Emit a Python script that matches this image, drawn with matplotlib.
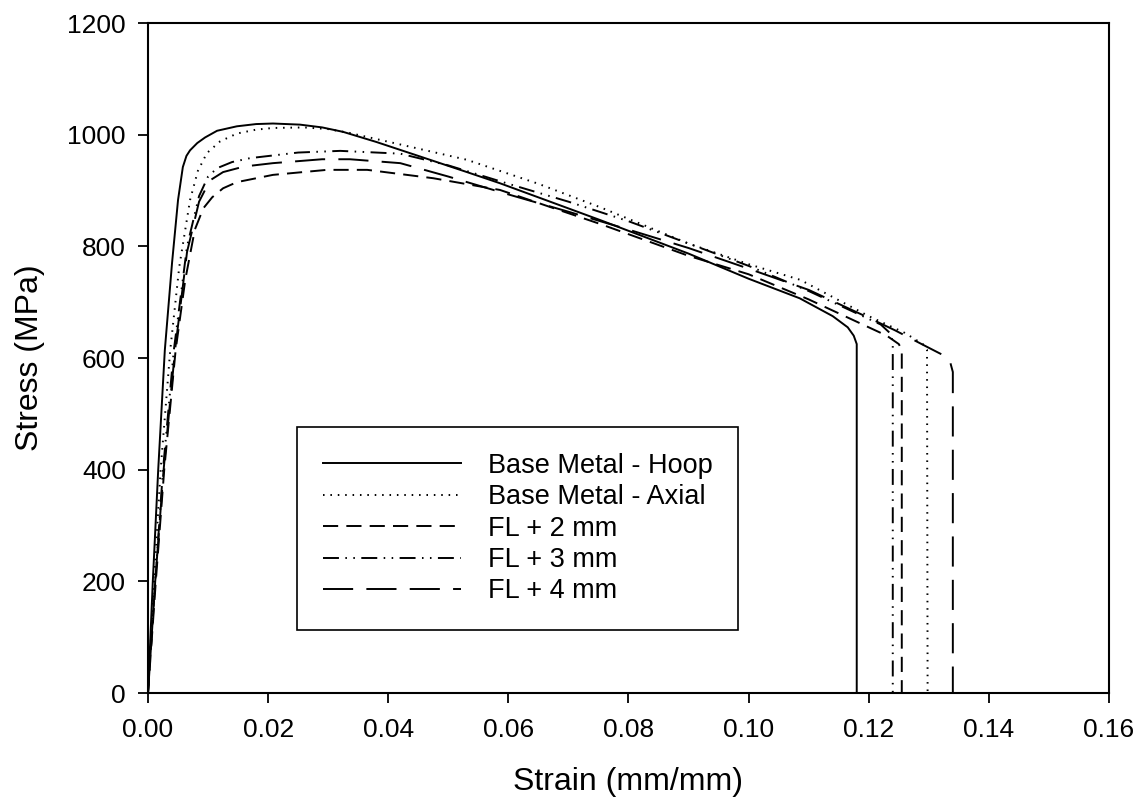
import numpy as np
import matplotlib
matplotlib.use('Agg')
import matplotlib.pyplot as plt

plt.rcParams['font.family'] = ['Liberation Sans', 'DejaVu Sans']

# Base Metal - Hoop
hoop_strain = [0, 0.0008, 0.0017, 0.0028, 0.0040, 0.0050, 0.0058, 0.0064, 0.0070, 0.0082, 0.0095, 0.0115,
               0.0148, 0.0180, 0.0208, 0.0253, 0.0290, 0.0325, 0.0380, 0.0436, 0.0531, 0.0586, 0.0753,
               0.0900, 0.1000, 0.1085, 0.1140, 0.1165, 0.1175, 0.1180, 0.1180]
hoop_stress = [0, 200, 400, 614, 770, 883, 942, 962, 972, 985, 995, 1007,
               1015, 1019, 1020, 1018, 1013, 1005, 987, 967, 933, 913, 847,
               787, 742, 707, 675, 655, 640, 625, 0]

# Base Metal - Axial
axial_strain = [0, 0.0010, 0.0021, 0.0037, 0.0052, 0.0070, 0.0083, 0.0098, 0.0120, 0.0148, 0.0180, 0.0208,
                0.0260, 0.0300, 0.0336, 0.0430, 0.0531, 0.0650, 0.0753, 0.0900, 0.1000, 0.1086, 0.1200,
                0.1260, 0.1290, 0.1297, 0.1298]
axial_stress = [0, 200, 400, 614, 763, 883, 935, 967, 988, 1002, 1009, 1012,
                1013, 1010, 1003, 980, 955, 912, 870, 805, 768, 740, 675,
                645, 625, 615, 0]

# FL + 2 mm
fl2_strain = [0, 0.0013, 0.0027, 0.0046, 0.0062, 0.0078, 0.0092, 0.0107, 0.0125, 0.0148, 0.0208, 0.0298,
              0.0365, 0.0475, 0.0586, 0.0753, 0.0900, 0.1000, 0.1100, 0.1180, 0.1230, 0.1250, 0.1255,
              0.1255]
fl2_stress = [0, 200, 400, 614, 740, 830, 868, 888, 904, 915, 928, 937,
              937, 922, 901, 840, 783, 750, 705, 665, 640, 625, 615,
              0]

# FL + 3 mm
fl3_strain = [0, 0.0012, 0.0025, 0.0043, 0.0065, 0.0085, 0.0100, 0.0115, 0.0140, 0.0170, 0.0250, 0.0320,
              0.0420, 0.0500, 0.0600, 0.0700, 0.0800, 0.0900, 0.1000, 0.1100, 0.1180, 0.1220, 0.1235,
              0.1240, 0.1240]
fl3_stress = [0, 200, 400, 614, 800, 890, 925, 940, 951, 958, 968, 971,
              966, 945, 912, 880, 845, 805, 765, 720, 680, 660, 645,
              630, 0]

# FL + 4 mm
fl4_strain = [0, 0.0012, 0.0026, 0.0045, 0.0065, 0.0085, 0.0103, 0.0125, 0.0160, 0.0208, 0.0290, 0.0336,
              0.0420, 0.0500, 0.0600, 0.0700, 0.0800, 0.0900, 0.1000, 0.1100, 0.1200, 0.1243, 0.1297,
              0.1326, 0.1336, 0.1340, 0.1340]
fl4_stress = [0, 200, 400, 614, 790, 880, 918, 933, 943, 949, 956, 956,
              949, 925, 893, 862, 830, 797, 760, 722, 672, 650, 620,
              604, 591, 575, 0]

labels = ['Base Metal - Hoop', 'Base Metal - Axial', 'FL + 2 mm', 'FL + 3 mm', 'FL + 4 mm']

fig = plt.figure(figsize=(11.42, 8.10), dpi=100)
ax = fig.add_axes([0.1296, 0.1444, 0.8415, 0.8272])

lw = 1.4
ax.plot(hoop_strain, hoop_stress, color='k', lw=lw, ls='-', label=labels[0])
ax.plot(axial_strain, axial_stress, color='k', lw=lw, ls=(0, (0.8, 3.0)), label=labels[1])
ax.plot(fl2_strain, fl2_stress, color='k', lw=lw, ls=(0, (7.8, 4.2)), label=labels[2])
ax.plot(fl3_strain, fl3_stress, color='k', lw=lw, ls=(0, (8.2, 3.3, 0.8, 3.3, 0.8, 3.3)), label=labels[3])
ax.plot(fl4_strain, fl4_stress, color='k', lw=lw, ls=(0, (15.5, 6.8)), label=labels[4])

ax.set_xlim(0, 0.16)
ax.set_ylim(0, 1200)
ax.set_xticks(np.arange(0, 0.161, 0.02))
ax.set_xticklabels(['%.2f' % v for v in np.arange(0, 0.161, 0.02)])
ax.set_yticks(np.arange(0, 1201, 200))

for s in ax.spines.values():
    s.set_linewidth(1.5)
ax.tick_params(direction='out', length=7, width=1.3, labelsize=19, pad=9)
ax.tick_params(axis='x', pad=11)

ax.set_xlabel('Strain (mm/mm)', fontsize=23, labelpad=18)
ax.set_ylabel('Stress (MPa)', fontsize=23, labelpad=16)

leg = ax.legend(loc='upper left', bbox_to_anchor=(0.155, 0.397), fontsize=19.5, frameon=True,
                fancybox=False, edgecolor='k', handlelength=5.1, handletextpad=1.0,
                labelspacing=0.2, borderpad=0.95, borderaxespad=0)
leg.get_frame().set_linewidth(1.2)
leg.get_frame().set_alpha(1)

fig.savefig('out.png', dpi=100)
